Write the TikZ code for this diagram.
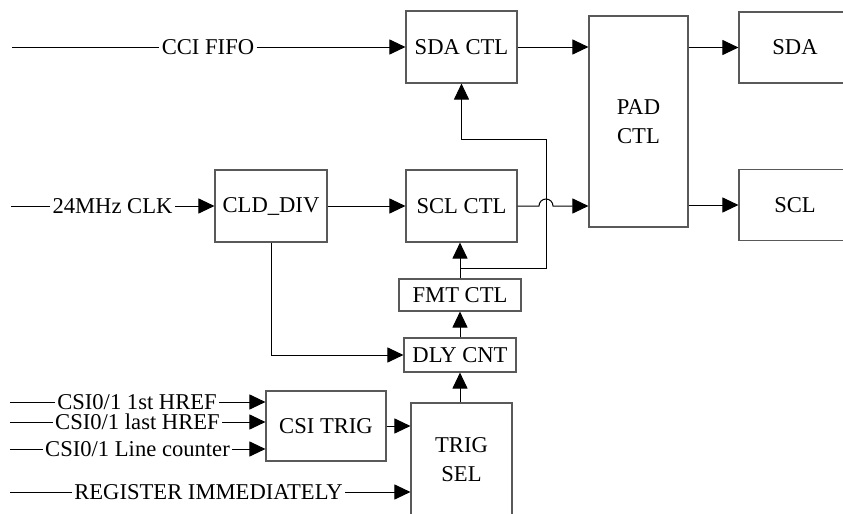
\documentclass[tikz,border=0pt]{standalone}
\usepackage{fontspec}
\setmainfont{Liberation Serif}
\usetikzlibrary{arrows.meta}

\begin{document}
\begin{tikzpicture}[x=0.5pt,y=-0.5pt,
  font=\fontsize{11.3}{14.5}\selectfont,
  blk/.style={draw=black!65,line width=0.55pt,align=center,inner sep=0pt},
  sig/.style={inner xsep=1pt,inner ysep=0pt},
  wire/.style={line width=0.5pt},
  arr/.style={wire,-{Triangle[length=8pt,width=7.5pt]}}]
\useasboundingbox (0,0) rectangle (843,514);
\clip (0,0) rectangle (843,514);

\node[blk,minimum width=55.5pt,minimum height=36pt]  (sdactl)  at (461.5,47)  {SDA CTL};
\node[blk,minimum width=55.5pt,minimum height=36pt]  (sclctl)  at (461.5,206) {SCL CTL};
\node[blk,minimum width=49.5pt,minimum height=105.5pt] (pad)   at (638.5,121.5) {PAD\\CTL};
\node[blk,minimum width=56pt,minimum height=35.5pt]  (sda)     at (795,47.5)  {SDA};
\node[blk,minimum width=56pt,minimum height=35.5pt]  (scl)     at (795,205)   {SCL};
\node[blk,minimum width=56pt,minimum height=36pt]    (clddiv)  at (271,206)   {CLD\_DIV};
\node[blk,minimum width=61pt,minimum height=16pt]    (fmtctl)  at (460,295)   {FMT CTL};
\node[blk,minimum width=56pt,minimum height=17pt]    (dlycnt)  at (460,355)   {DLY CNT};
\node[blk,minimum width=60pt,minimum height=35pt]    (csitrig) at (326,426)   {CSI TRIG};
\node[blk,minimum width=50.5pt,minimum height=57pt]  (trigsel) at (461.5,460) {TRIG\\SEL};

\coordinate (in1) at (12,47);
\coordinate (in2) at (11,206);
\coordinate (in3) at (10,402);
\coordinate (in4) at (10,422);
\coordinate (in5) at (10,449);
\coordinate (in6) at (10,492);
\node[sig] (ccififo) at (208,47)    {CCI FIFO};
\node[sig] (clk24)   at (112.5,206) {24MHz CLK};
\node[sig] (href1)   at (137,402)   {CSI0/1 1st HREF};
\node[sig] (href2)   at (137.5,422) {CSI0/1 last HREF};
\node[sig] (linecnt) at (137.5,449) {CSI0/1 Line counter};
\node[sig] (regimm)  at (208.5,492) {REGISTER IMMEDIATELY};

\draw[wire] (in1) -- (ccififo);
\draw[arr] (ccififo) -- (sdactl);
\draw[wire] (in2) -- (clk24);
\draw[arr] (clk24) -- (clddiv);
\draw[arr] (clddiv) -- (sclctl);
\draw[arr] (clddiv.south) |- (dlycnt.west);
\draw[wire] (in3) -- (href1);
\draw[arr] (href1) -- (csitrig.west |- in3);
\draw[wire] (in4) -- (href2);
\draw[arr] (href2) -- (csitrig.west |- in4);
\draw[wire] (in5) -- (linecnt);
\draw[arr] (linecnt) -- (csitrig.west |- in5);
\draw[wire] (in6) -- (regimm);
\draw[arr] (regimm) -- (trigsel.west |- in6);
\draw[arr] (csitrig.east) -- (trigsel.west |- csitrig.east);

\draw[arr] (trigsel.north -| dlycnt) -- (dlycnt.south);
\draw[arr] (dlycnt) -- (fmtctl);
\draw[arr] (fmtctl.north) -- (sclctl.south -| fmtctl.north);
\coordinate (tap) at (460,268);
\coordinate (riser) at (546,139);
\draw[arr] (tap) -| (riser) -| (sdactl.south);

\coordinate (hop) at (539,206);
\draw[arr] (sclctl.east) -- (hop) arc[start angle=180,end angle=0,radius=3.5pt] -- (pad.west |- sclctl.east);
\draw[arr] (sdactl.east) -- (pad.west |- sdactl.east);
\draw[arr] (pad.east |- sda.west) -- (sda.west);
\draw[arr] (pad.east |- scl.west) -- (scl.west);
\end{tikzpicture}
\end{document}
